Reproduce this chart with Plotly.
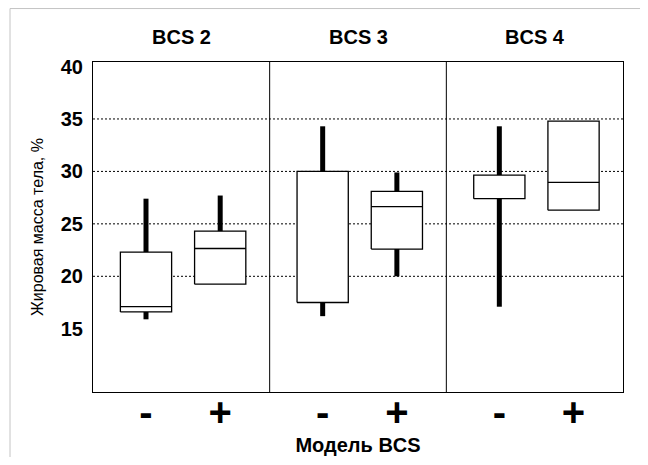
import plotly.graph_objects as go

# ---- data ----
groups = ["BCS 2", "BCS 3", "BCS 4"]
signs = ["-", "+"]
# order: BCS2-, BCS2+, BCS3-, BCS3+, BCS4-, BCS4+
whisker_low = [15.9, 19.25, 16.2, 20.0, 17.1, 26.3]
q1 = [16.6, 19.25, 17.5, 22.6, 27.4, 26.3]
median = [17.1, 22.65, None, 26.65, None, 28.95]
q3 = [22.3, 24.3, 30.0, 28.1, 29.65, 34.8]
whisker_high = [27.4, 27.7, 34.3, 29.9, 34.3, 34.8]
y_ticks = [15, 20, 25, 30, 35, 40]
grid_vals = [20, 25, 30, 35]

# ---- layout helpers ----
offsets = [0.30, 0.72]
box_w = 0.29
xs = []
tick_text = []
for gi, g in enumerate(groups):
    for si, s in enumerate(signs):
        xs.append(gi + offsets[si])
        tick_text.append(s)

fig = go.Figure()

# whiskers
wx, wy = [], []
for i, x in enumerate(xs):
    if whisker_high[i] > q3[i]:
        wx += [x, x, None]
        wy += [q3[i], whisker_high[i], None]
    if whisker_low[i] < q1[i]:
        wx += [x, x, None]
        wy += [whisker_low[i], q1[i], None]
fig.add_trace(go.Scatter(x=wx, y=wy, mode="lines",
                         line=dict(color="black", width=5), hoverinfo="skip"))

# boxes
for i, x in enumerate(xs):
    l, r = x - box_w / 2, x + box_w / 2
    fig.add_trace(go.Scatter(x=[l, r, r, l, l], y=[q1[i], q1[i], q3[i], q3[i], q1[i]],
                             mode="lines", fill="toself", fillcolor="white",
                             line=dict(color="black", width=1.3), hoverinfo="skip"))
    if median[i] is not None:
        fig.add_trace(go.Scatter(x=[l, r], y=[median[i], median[i]], mode="lines",
                                 line=dict(color="black", width=1.3), hoverinfo="skip"))

shapes = []
for v in grid_vals:
    shapes.append(dict(type="line", xref="paper", x0=0, x1=1, yref="y", y0=v, y1=v,
                       line=dict(color="black", width=1, dash="2px,2px"), layer="below"))
for gi in range(1, len(groups)):
    shapes.append(dict(type="line", xref="x", x0=gi, x1=gi, yref="paper", y0=0, y1=1,
                       line=dict(color="black", width=1)))
# faint outer frame of the source image
shapes.append(dict(type="line", xref="paper", yref="paper", x0=-0.1566, x1=1.05,
                   y0=1.162, y1=1.162, line=dict(color="#c4c4c4", width=1)))
shapes.append(dict(type="line", xref="paper", yref="paper", x0=-0.1566, x1=-0.1566,
                   y0=1.162, y1=-0.2, line=dict(color="#c4c4c4", width=1)))

annotations = []
for gi, g in enumerate(groups):
    annotations.append(dict(x=gi + 0.5, y=1.0, xref="x", yref="paper", yshift=38,
                            text=g, showarrow=False,
                            font=dict(size=20, color="black",
                                      family="Liberation Sans, Arial, sans-serif",
                                      weight="bold")))

fig.update_layout(
    template="none",
    width=632, height=449,
    margin=dict(l=85, r=17, t=54, b=65, pad=0),
    paper_bgcolor="white", plot_bgcolor="white",
    showlegend=False,
    shapes=shapes,
    annotations=annotations,
    font=dict(family="Liberation Sans, Arial, sans-serif", color="black"),
    xaxis=dict(range=[0, 3], tickvals=xs, ticktext=tick_text, automargin=False,
               showgrid=False, zeroline=False, showline=True, linecolor="black",
               linewidth=1, mirror=True, ticks="",
               tickfont=dict(size=40, weight="bold", color="black"),
               ticklabelstandoff=-15,
               title=dict(text="Модель BCS", standoff=0,
                          font=dict(size=20, weight="bold", color="black"))),
    yaxis=dict(range=[8.97, 40.43], tickvals=y_ticks, automargin=False,
               showgrid=False, zeroline=False, showline=True, linecolor="black",
               linewidth=1, mirror=True, ticks="",
               tickfont=dict(size=20, weight="bold", color="black"),
               ticklabelstandoff=5,
               title=dict(text="Жировая масса тела, %", standoff=13,
                          font=dict(size=16, color="black"))),
)

fig.write_html("out.html")
